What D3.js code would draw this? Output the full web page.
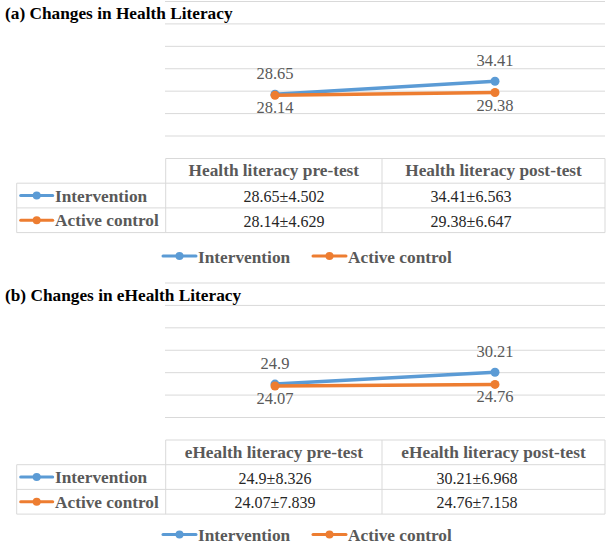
<!DOCTYPE html>
<html><head><meta charset="utf-8">
<script src="https://cdn.jsdelivr.net/npm/d3@7"></script>
<style>
html,body{margin:0;padding:0;background:#fff;}
svg{display:block;}
</style></head>
<body>
<script>
// ---- data ----
const categories = ["pre-test", "post-test"];
const seriesNames = ["Intervention", "Active control"];
const panelTitles = ["(a) Changes in Health Literacy", "(b) Changes in eHealth Literacy"];
const headerLabelsA = ["Health literacy pre-test", "Health literacy post-test"];
const headerLabelsB = ["eHealth literacy pre-test", "eHealth literacy post-test"];
const healthIntervention = [28.65, 34.41];
const healthControl = [28.14, 29.38];
const healthInterventionSD = [4.502, 6.563];
const healthControlSD = [4.629, 6.647];
const eHealthIntervention = [24.9, 30.21];
const eHealthControl = [24.07, 24.76];
const eHealthInterventionSD = [8.326, 6.968];
const eHealthControlSD = [7.839, 7.158];
const yTicks = [10, 20, 30, 40, 50, 60, 70];

const colors = ["#5B9BD5", "#ED7D31"];
const W = 608, H = 544;
const FONT = "'Liberation Serif', 'DejaVu Serif', serif";
const svg = d3.select("body").append("svg").attr("width", W).attr("height", H)
  .attr("font-family", FONT);

const panels = [
  {title: panelTitles[0], headers: headerLabelsA, means: [healthIntervention, healthControl],
   sds: [healthInterventionSD, healthControlSD], dy: 0, cellX: [284, 471], ly: 256},
  {title: panelTitles[1], headers: headerLabelsB, means: [eHealthIntervention, eHealthControl],
   sds: [eHealthInterventionSD, eHealthControlSD], dy: 281.5, cellX: [275, 477], ly: 253}
];

const x = d3.scaleBand().domain(categories).range([165, 605]);
const xc = c => x(c) + x.bandwidth() / 2;

panels.forEach(p => {
  const g = svg.append("g").attr("transform", `translate(0,${p.dy})`);
  const y = d3.scaleLinear().domain([10, 70]).range([136, 1.5]);

  // gridlines
  g.append("g").selectAll("line").data(yTicks).join("line")
    .attr("x1", 165).attr("x2", 605)
    .attr("y1", d => y(d)).attr("y2", d => y(d))
    .attr("stroke", "#d9d9d9").attr("stroke-width", 1);

  // title
  g.append("text").attr("x", 5).attr("y", 19)
    .attr("font-size", 17.3).attr("font-weight", "bold").attr("fill", "#000")
    .text(p.title);

  // lines
  const line = d3.line().x((d, i) => xc(categories[i])).y(d => y(d));
  p.means.forEach((s, si) => {
    g.append("path").datum(s).attr("d", line).attr("fill", "none")
      .attr("stroke", colors[si]).attr("stroke-width", 3.5).attr("stroke-linecap", "round");
    g.append("g").selectAll("circle").data(s).join("circle")
      .attr("cx", (d, i) => xc(categories[i])).attr("cy", d => y(d)).attr("r", 4.5)
      .attr("fill", colors[si]);
  });
  // data labels
  p.means.forEach((s, si) => {
    g.append("g").selectAll("text").data(s).join("text")
      .attr("x", (d, i) => xc(categories[i]))
      .attr("y", d => si === 0 ? y(d) - 15 : y(d) + 18)
      .attr("text-anchor", "middle").attr("font-size", 16.5).attr("fill", "#595959")
      .text(d => String(d));
  });

  // table
  const top = 158.5, rowH = 24.7, left = 16.7, colX = [165.7, 382, 605];
  const tg = g.append("g");
  const bc = "#d9d9d9";
  tg.append("line").attr("x1", colX[0]).attr("x2", colX[2]).attr("y1", top).attr("y2", top).attr("stroke", bc);
  [1, 2, 3].forEach(r => {
    tg.append("line").attr("x1", left).attr("x2", colX[2])
      .attr("y1", top + r * rowH).attr("y2", top + r * rowH).attr("stroke", bc);
  });
  tg.append("line").attr("x1", left).attr("x2", left).attr("y1", top + rowH).attr("y2", top + 3 * rowH).attr("stroke", bc);
  colX.forEach(cx => {
    tg.append("line").attr("x1", cx).attr("x2", cx).attr("y1", top).attr("y2", top + 3 * rowH).attr("stroke", bc);
  });
  p.headers.forEach((h, i) => {
    tg.append("text").attr("x", (colX[i] + colX[i + 1]) / 2).attr("y", top + rowH - 7)
      .attr("text-anchor", "middle").attr("font-size", 17.3).attr("font-weight", "bold")
      .attr("fill", "#595959").text(h);
  });
  seriesNames.forEach((name, si) => {
    const cy = top + (si + 1.5) * rowH;
    tg.append("line").attr("x1", 20.7).attr("x2", 52.7).attr("y1", cy).attr("y2", cy)
      .attr("stroke", colors[si]).attr("stroke-width", 3).attr("stroke-linecap", "round");
    tg.append("circle").attr("cx", 36.7).attr("cy", cy).attr("r", 4).attr("fill", colors[si]);
    tg.append("text").attr("x", 55).attr("y", cy + 6).attr("font-size", 17.3).attr("font-weight", "bold")
      .attr("fill", "#595959").text(name);
    p.means[si].forEach((m, ci) => {
      tg.append("text").attr("x", p.cellX[ci]).attr("y", cy + 6.5).attr("text-anchor", "middle")
        .attr("font-size", 16).attr("fill", "#262626")
        .text(String(m) + "\u00B1" + p.sds[si][ci].toFixed(3));
    });
  });

  // legend
  const ly = p.ly;
  const legendX = [163, 313];
  seriesNames.forEach((name, si) => {
    const lx = legendX[si];
    g.append("line").attr("x1", lx).attr("x2", lx + 33).attr("y1", ly).attr("y2", ly)
      .attr("stroke", colors[si]).attr("stroke-width", 3).attr("stroke-linecap", "round");
    g.append("circle").attr("cx", lx + 16.5).attr("cy", ly).attr("r", 4).attr("fill", colors[si]);
    g.append("text").attr("x", lx + 35).attr("y", ly + 6.5).attr("font-size", 17.3).attr("font-weight", "bold")
      .attr("fill", "#595959").text(name);
  });
});
</script>
</body></html>
